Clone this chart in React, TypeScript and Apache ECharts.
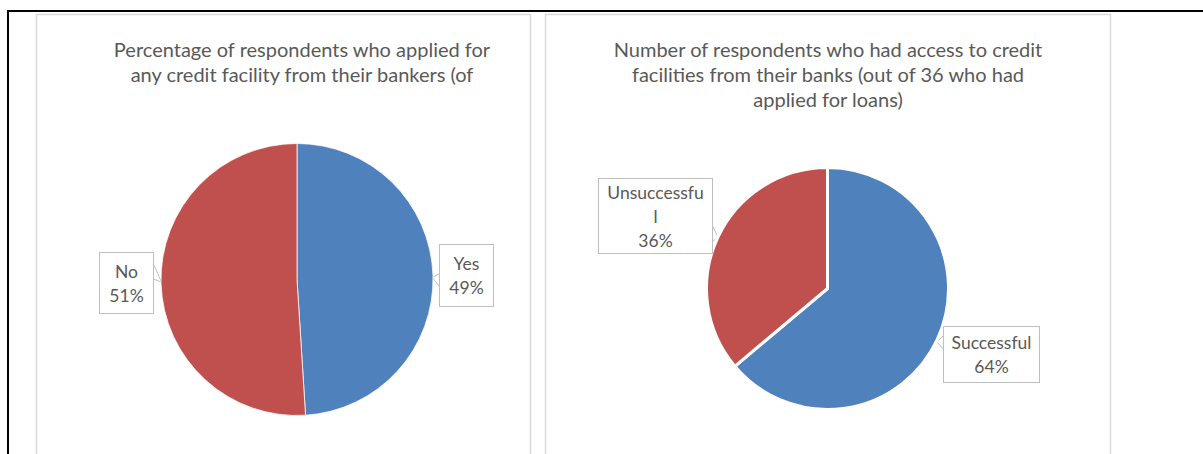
import React, { useEffect, useRef } from "react";
import * as echarts from "echarts";

// ---- data ----
const applyCategories = ["Yes", "No"];
const applyValues = [49, 51];
const accessCategories = ["Successful", "Unsuccessful"];
const accessValues = [23, 13];
const leftTitle = "Percentage of respondents who applied for\nany credit facility from their bankers (of";
const rightTitle =
  "Number of respondents who had access to credit\nfacilities from their banks (out of 36 who had\napplied for loans)";

// ---- styles / layout ----
const FONT = "Lato, 'Noto Sans', sans-serif";
const TEXT = "#595959";
const BLUE = "#4F81BD";
const RED = "#C0504D";
const CALLOUT = "#BFBFBF";
const PANEL = "#D9D9D9";
const FS = 17.5;
const TITLE_FS = 20;
const LH = 24;
const WRAP = 11;

// callout boxes: centre, size, pointer (edge -> tip -> edge)
const leftCallouts = [
  { cx: 466.5, cy: 275.5, w: 53, h: 61, line: [[440.5, 273], [432.5, 277.5], [440.5, 288]] },
  { cx: 126.5, cy: 283, w: 53, h: 60, line: [[153, 263], [161.5, 282], [153, 279]] },
];
const rightCallouts = [
  { cx: 991.5, cy: 354.5, w: 95, h: 55, line: [[944, 335], [937, 342], [944, 350]] },
  { cx: 655.5, cy: 216, w: 113, h: 74, line: [[712, 225], [718, 237], [712, 242]] },
];

function wrapName(name: string) {
  const parts: string[] = [];
  for (let i = 0; i < name.length; i += WRAP) parts.push(name.slice(i, i + WRAP));
  return parts.join("\n");
}

function buildData(names: string[], values: number[], colors: string[], callouts: any[]) {
  return names.map((n, i) => {
    const lines = wrapName(n).split("\n").length + 1;
    const pv = Math.max(0, (callouts[i].h - lines * LH) / 2);
    return {
      name: n,
      value: values[i],
      itemStyle: { color: colors[i] },
      label: { width: callouts[i].w, padding: [pv, 0, pv, 0] },
    };
  });
}

function pieSeries(
  names: string[],
  values: number[],
  callouts: any[],
  center: number[],
  radius: number,
  borderWidth: number
) {
  return {
    type: "pie",
    center,
    radius,
    startAngle: 90,
    clockwise: true,
    avoidLabelOverlap: false,
    silent: true,
    itemStyle: { borderColor: "#ffffff", borderWidth },
    emphasis: { disabled: true },
    label: {
      show: true,
      position: "outside",
      formatter: (p: any) => wrapName(p.name) + "\n" + Math.round(p.percent) + "%",
      color: TEXT,
      fontFamily: FONT,
      fontSize: FS,
      lineHeight: LH,
      align: "center",
      backgroundColor: "#ffffff",
      borderColor: CALLOUT,
      borderWidth: 1,
    },
    labelLine: { show: true, smooth: false, lineStyle: { color: CALLOUT, width: 1 } },
    labelLayout: (p: any) => {
      const c = callouts[p.dataIndex];
      return { x: c.cx, y: c.cy, align: "center", verticalAlign: "middle", labelLinePoints: c.line };
    },
    data: buildData(names, values, [BLUE, RED], callouts),
  };
}

export default function App() {
  const ref = useRef<HTMLDivElement>(null);
  useEffect(() => {
    if (!ref.current) return;
    const chart = echarts.init(ref.current, undefined, { renderer: "svg" });
    chart.setOption({
      animation: false,
      backgroundColor: "#ffffff",
      graphic: [
        { type: "rect", shape: { x: 36.5, y: 14.5, width: 494, height: 470 }, style: { fill: "none", stroke: PANEL, lineWidth: 1.5 }, z: -1 },
        { type: "rect", shape: { x: 545.5, y: 14.5, width: 565, height: 470 }, style: { fill: "none", stroke: PANEL, lineWidth: 1.5 }, z: -1 },
        { type: "rect", shape: { x: 7, y: 10, width: 1196, height: 2 }, style: { fill: "#000000" } },
        { type: "rect", shape: { x: 7, y: 10, width: 2, height: 444 }, style: { fill: "#000000" } },
        {
          type: "text",
          x: 302,
          y: 36,
          style: { text: leftTitle, align: "center", verticalAlign: "top", fill: TEXT, fontFamily: FONT, fontSize: TITLE_FS, lineHeight: 25 },
        },
        {
          type: "text",
          x: 828,
          y: 36,
          style: { text: rightTitle, align: "center", verticalAlign: "top", fill: TEXT, fontFamily: FONT, fontSize: TITLE_FS, lineHeight: 25 },
        },
      ],
      series: [
        pieSeries(applyCategories, applyValues, leftCallouts, [297, 279.5], 136, 0.75),
        pieSeries(accessCategories, accessValues, rightCallouts, [827.5, 288.5], 121, 3),
      ],
    });
    return () => chart.dispose();
  }, []);
  return (
    <div
      ref={ref}
      style={{ position: "absolute", left: 0, top: 0, width: 1203, height: 454, background: "#fff" }}
    />
  );
}
